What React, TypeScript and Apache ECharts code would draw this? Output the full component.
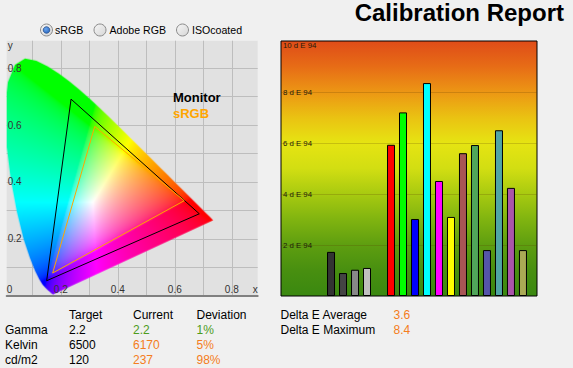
import React, { useEffect, useRef } from "react";
import * as echarts from "echarts";

const FONT = "'Liberation Sans', Arial, sans-serif";

// ---------- Delta E bar chart data ----------
const patchSlots = [0, 1, 2, 3, 5, 6, 7, 8, 9, 10, 11, 12, 13, 14, 15, 16];
const patchColors = [
  "#333333", "#444444", "#888888", "#c0c0c0",
  "#ff0000", "#00ff00", "#0000ff", "#00ffff", "#ff00ff", "#ffff00",
  "#a85555", "#50a55a", "#5555aa", "#50a5a5", "#aa55aa", "#aaaa55",
];
const deltaE = [1.73, 0.9, 1.03, 1.1, 5.93, 7.2, 3.02, 8.35, 4.51, 3.1, 5.6, 5.92, 1.8, 6.5, 4.24, 1.8];
const deltaTickSuffix = " d E 94";
const deltaGradientValues = [10, 9, 8, 7, 6, 5, 4, 3, 2, 1, 0];
const deltaGradientColors = [
  "#df4c18", "#e76c16", "#ec9614", "#eac212", "#e6e412", "#d2de12",
  "#a8ca10", "#80b410", "#5e9e10", "#488f10", "#3a8810",
];

// ---------- CIE gamut data ----------
const cieTickLabels = ["0.2", "0.4", "0.6", "0.8"];
const CIE_X_MIN = 0.0102;
const CIE_X_MAX = 0.8909;
const CIE_Y_MIN = 0;
const CIE_Y_MAX = 0.8965;
const monitorX = [0.686, 0.236, 0.1505, 0.686];
const monitorY = [0.288, 0.691, 0.0527, 0.288];
const srgbX = [0.633, 0.319, 0.1716, 0.633];
const srgbY = [0.334, 0.595, 0.0798, 0.334];
// CIE 1931 spectral locus (380..700 nm)
const locusX = [0.1741, 0.1740, 0.1738, 0.1736, 0.1733, 0.1730, 0.1726, 0.1721, 0.1714, 0.1703, 0.1689, 0.1669, 0.1644, 0.1611, 0.1566, 0.1510, 0.1440, 0.1355, 0.1241, 0.1096, 0.0913, 0.0687, 0.0454, 0.0235, 0.0082, 0.0039, 0.0139, 0.0389, 0.0743, 0.1142, 0.1547, 0.1929, 0.2296, 0.2658, 0.3016, 0.3373, 0.3731, 0.4087, 0.4441, 0.4788, 0.5125, 0.5448, 0.5752, 0.6029, 0.6270, 0.6482, 0.6658, 0.6915, 0.7079, 0.7190, 0.7260, 0.7300, 0.7334, 0.7347];
const locusY = [0.0050, 0.0050, 0.0049, 0.0049, 0.0048, 0.0048, 0.0048, 0.0048, 0.0051, 0.0058, 0.0069, 0.0086, 0.0109, 0.0138, 0.0177, 0.0227, 0.0297, 0.0399, 0.0578, 0.0868, 0.1327, 0.2007, 0.2950, 0.4127, 0.5384, 0.6548, 0.7502, 0.8120, 0.8338, 0.8262, 0.8059, 0.7816, 0.7543, 0.7243, 0.6923, 0.6589, 0.6245, 0.5896, 0.5547, 0.5202, 0.4866, 0.4544, 0.4242, 0.3965, 0.3725, 0.3514, 0.3340, 0.3083, 0.2920, 0.2809, 0.2740, 0.2700, 0.2666, 0.2653];

// ---------- text data ----------
const title = "Calibration Report";
const radioLabels = ["sRGB", "Adobe RGB", "ISOcoated"];
const radioSelected = 0;
const legendLabels = ["Monitor", "sRGB"];
const tableHeaders = ["Target", "Current", "Deviation"];
const rowLabels = ["Gamma", "Kelvin", "cd/m2"];
const targetValues = ["2.2", "6500", "120"];
const currentValues = ["2.2", "6170", "237"];
const deviationValues = ["1%", "5%", "98%"];
const rowStatusColors = ["#4c9c1c", "#f47d20", "#f47d20"];
const summaryLabels = ["Delta E Average", "Delta E Maximum"];
const summaryValues = ["3.6", "8.4"];
const summaryColor = "#f47d20";

const ORANGE = "#ffa500";

let locusCache: { key: string; url: string } | null = null;

function gammaEnc(v: number) {
  return v <= 0.0031308 ? 12.92 * v : 1.055 * Math.pow(v, 1 / 2.4) - 0.055;
}

function makeLocusImage(w: number, h: number): string {
  const key = w + "x" + h;
  if (locusCache && locusCache.key === key) return locusCache.url;
  const c = document.createElement("canvas");
  c.width = w;
  c.height = h;
  const ctx = c.getContext("2d")!;
  const img = ctx.createImageData(w, h);
  const d = img.data;
  for (let j = 0; j < h; j++) {
    const y = CIE_Y_MAX - ((j + 0.5) / h) * (CIE_Y_MAX - CIE_Y_MIN);
    for (let i = 0; i < w; i++) {
      const x = CIE_X_MIN + ((i + 0.5) / w) * (CIE_X_MAX - CIE_X_MIN);
      if (y <= 0.0005) continue;
      const X = x / y;
      const Y = 1;
      const Z = (1 - x - y) / y;
      let r = 3.2406 * X - 1.5372 * Y - 0.4986 * Z;
      let g = -0.9689 * X + 1.8758 * Y + 0.0415 * Z;
      let b = 0.0557 * X - 0.204 * Y + 1.057 * Z;
      r = Math.max(0, r);
      g = Math.max(0, g);
      b = Math.max(0, b);
      const m = Math.max(r, g, b);
      if (m <= 0) continue;
      r /= m;
      g /= m;
      b /= m;
      const k = (j * w + i) * 4;
      d[k] = Math.round(255 * gammaEnc(r));
      d[k + 1] = Math.round(255 * gammaEnc(g));
      d[k + 2] = Math.round(255 * gammaEnc(b));
      d[k + 3] = 255;
    }
  }
  ctx.putImageData(img, 0, 0);
  const out = document.createElement("canvas");
  out.width = w;
  out.height = h;
  const o = out.getContext("2d")!;
  o.beginPath();
  for (let n = 0; n < locusX.length; n++) {
    const px = ((locusX[n] - CIE_X_MIN) / (CIE_X_MAX - CIE_X_MIN)) * w;
    const py = ((CIE_Y_MAX - locusY[n]) / (CIE_Y_MAX - CIE_Y_MIN)) * h;
    if (n === 0) o.moveTo(px, py);
    else o.lineTo(px, py);
  }
  o.closePath();
  o.clip();
  o.drawImage(c, 0, 0);
  const url = out.toDataURL();
  locusCache = { key, url };
  return url;
}

function cieLabel(v: number, minText: string, maxText: string, min: number, max: number) {
  if (Math.abs(v - min) < 1e-6) return minText;
  if (Math.abs(v - max) < 1e-6) return maxText;
  const s = v.toFixed(1);
  return cieTickLabels.indexOf(s) >= 0 && Math.abs(v - parseFloat(s)) < 1e-6 ? s : "";
}

function buildOption() {
  const graphics: any[] = [];
  const txt = (text: string, x: number, y: number, opts: any = {}) =>
    graphics.push({
      type: "text",
      z: 100,
      style: {
        text,
        x,
        y,
        fill: opts.fill || "#000",
        fontSize: opts.fontSize || 12,
        fontFamily: FONT,
        fontWeight: opts.fontWeight || "normal",
        align: opts.align || "left",
        verticalAlign: "middle",
      },
    });

  // title
  txt(title, 564, 12.5, { fontSize: 24, fontWeight: "bold", align: "right" });

  // radio buttons
  const radioCx = [46.5, 100, 182.5];
  const radioTx = [55, 109.5, 192];
  radioLabels.forEach((label, i) => {
    graphics.push({
      type: "circle",
      z: 100,
      shape: { cx: radioCx[i], cy: 30, r: 6 },
      style: {
        fill: new echarts.graphic.LinearGradient(0, 0, 1, 1, [
          { offset: 0, color: "#f6f6f6" },
          { offset: 1, color: "#d6d6d6" },
        ]),
        stroke: "#8b8b8b",
        lineWidth: 1,
      },
    });
    if (i === radioSelected) {
      graphics.push({
        type: "circle",
        z: 101,
        shape: { cx: radioCx[i], cy: 30, r: 3.3 },
        style: {
          fill: new echarts.graphic.RadialGradient(0.4, 0.35, 0.8, [
            { offset: 0, color: "#6aa6ee" },
            { offset: 1, color: "#1e5cb8" },
          ]),
          stroke: "#274f8c",
          lineWidth: 0.8,
        },
      });
    }
    txt(label, radioTx[i], 30, { fontSize: 10.6 });
  });

  // legend texts inside the gamut plot
  txt(legendLabels[0], 173, 97, { fontSize: 13, fontWeight: "bold" });
  txt(legendLabels[1], 173, 113, { fontSize: 13, fontWeight: "bold", fill: ORANGE });

  // table
  const colX = [69, 133, 196.5];
  tableHeaders.forEach((h, i) => txt(h, colX[i], 314.5));
  rowLabels.forEach((r, i) => {
    const y = 329.5 + i * 15;
    txt(r, 5, y);
    txt(targetValues[i], colX[0], y);
    txt(currentValues[i], colX[1], y, { fill: rowStatusColors[i] });
    txt(deviationValues[i], colX[2], y, { fill: rowStatusColors[i] });
  });
  summaryLabels.forEach((s, i) => {
    const y = 314.5 + i * 15;
    txt(s, 280.5, y);
    txt(summaryValues[i], 393.5, y, { fill: summaryColor });
  });

  const barGradient = new echarts.graphic.LinearGradient(
    0, 0, 0, 1,
    deltaGradientValues.map((v, i) => ({ offset: 1 - v / 10, color: deltaGradientColors[i] }))
  );

  const cieAxisCommon = {
    type: "value",
    gridIndex: 0,
    minInterval: 0.1,
    maxInterval: 0.1,
    splitNumber: 9,
  };

  return {
    animation: false,
    backgroundColor: "#f0f0f0",
    textStyle: { fontFamily: FONT },
    grid: [
      {
        left: 6.7,
        top: 40.7,
        width: 251,
        height: 255,
        show: true,
        backgroundColor: "#e1e1e1",
        borderWidth: 0,
      },
      {
        left: 281,
        top: 41,
        width: 256,
        height: 255,
        show: true,
        backgroundColor: barGradient,
        borderColor: "#000",
        borderWidth: 1,
      },
    ],
    xAxis: [
      {
        ...cieAxisCommon,
        position: "bottom",
        min: CIE_X_MIN,
        max: CIE_X_MAX,
        z: 0,
        axisLine: { show: false },
        axisTick: { show: false },
        axisLabel: { show: false },
        splitLine: { show: true, showMinLine: false, showMaxLine: false, lineStyle: { color: "#bdbdbd", width: 1 } },
      },
      {
        type: "value",
        gridIndex: 1,
        min: -4.17,
        max: 17.17,
        show: false,
      },
      {
        ...cieAxisCommon,
        position: "bottom",
        min: CIE_X_MIN,
        max: CIE_X_MAX,
        z: 10,
        axisLine: { show: true, onZero: false, lineStyle: { color: "#808080", width: 2 } },
        axisTick: { show: false },
        splitLine: { show: false },
        axisLabel: {
          inside: true,
          margin: 1,
          fontSize: 10,
          color: "#333",
          fontFamily: FONT,
          showMinLabel: true,
          showMaxLabel: true,
          alignMinLabel: "left",
          alignMaxLabel: "right",
          formatter: (v: number) => cieLabel(v, "0", "x", CIE_X_MIN, CIE_X_MAX),
        },
      },
    ],
    yAxis: [
      {
        ...cieAxisCommon,
        position: "left",
        min: CIE_Y_MIN,
        max: CIE_Y_MAX,
        z: 0,
        axisLine: { show: false },
        axisTick: { show: false },
        axisLabel: { show: false },
        splitLine: { show: true, showMinLine: false, showMaxLine: false, lineStyle: { color: "#bdbdbd", width: 1 } },
      },
      {
        type: "value",
        gridIndex: 1,
        position: "left",
        min: 0,
        max: 10,
        interval: 2,
        axisLine: { show: false },
        axisTick: { show: false },
        axisLabel: {
          inside: true,
          margin: 2,
          fontSize: 7.8,
          color: "#1e1a0a",
          fontFamily: FONT,
          showMaxLabel: true,
          verticalAlignMaxLabel: "top",
          formatter: (v: number) => (v === 0 ? "" : v + deltaTickSuffix),
        },
        splitLine: {
          show: true,
          showMinLine: false,
          showMaxLine: false,
          lineStyle: { color: "rgba(90,60,0,0.22)", width: 1 },
        },
      },
      {
        ...cieAxisCommon,
        position: "left",
        min: CIE_Y_MIN,
        max: CIE_Y_MAX,
        z: 10,
        axisLine: { show: false },
        axisTick: { show: false },
        splitLine: { show: false },
        axisLabel: {
          inside: true,
          margin: 1,
          fontSize: 10,
          color: "#333",
          fontFamily: FONT,
          showMinLabel: true,
          showMaxLabel: true,
          verticalAlignMaxLabel: "top",
          formatter: (v: number) => cieLabel(v, "", "y", CIE_Y_MIN, CIE_Y_MAX),
        },
      },
    ],
    series: [
      {
        type: "custom",
        xAxisIndex: 0,
        yAxisIndex: 0,
        z: 1,
        silent: true,
        data: [[CIE_X_MIN, CIE_Y_MIN]],
        renderItem: (_params: any, api: any) => {
          const p0 = api.coord([CIE_X_MIN, CIE_Y_MAX]);
          const p1 = api.coord([CIE_X_MAX, CIE_Y_MIN]);
          const w = Math.round(p1[0] - p0[0]);
          const h = Math.round(p1[1] - p0[1]);
          return {
            type: "image",
            style: { image: makeLocusImage(w, h), x: p0[0], y: p0[1], width: w, height: h },
          };
        },
      },
      {
        type: "line",
        xAxisIndex: 0,
        yAxisIndex: 0,
        z: 3,
        symbol: "none",
        silent: true,
        lineStyle: { color: "#000", width: 1 },
        data: monitorX.map((x, i) => [x, monitorY[i]]),
      },
      {
        type: "line",
        xAxisIndex: 0,
        yAxisIndex: 0,
        z: 3,
        symbol: "none",
        silent: true,
        lineStyle: { color: ORANGE, width: 1 },
        data: srgbX.map((x, i) => [x, srgbY[i]]),
      },
      {
        type: "bar",
        xAxisIndex: 1,
        yAxisIndex: 1,
        barWidth: 8,
        silent: true,
        itemStyle: { borderColor: "#000", borderWidth: 1 },
        data: patchSlots.map((s, i) => ({ value: [s, deltaE[i]], itemStyle: { color: patchColors[i] } })),
      },
    ],
    graphic: graphics,
  };
}

export default function App() {
  const ref = useRef<HTMLDivElement>(null);
  useEffect(() => {
    const chart = echarts.init(ref.current!, null, { renderer: "svg" });
    chart.setOption(buildOption() as any);
    return () => chart.dispose();
  }, []);
  return (
    <div
      ref={ref}
      style={{ position: "absolute", left: 0, top: 0, width: 573, height: 368, background: "#f0f0f0" }}
    />
  );
}
